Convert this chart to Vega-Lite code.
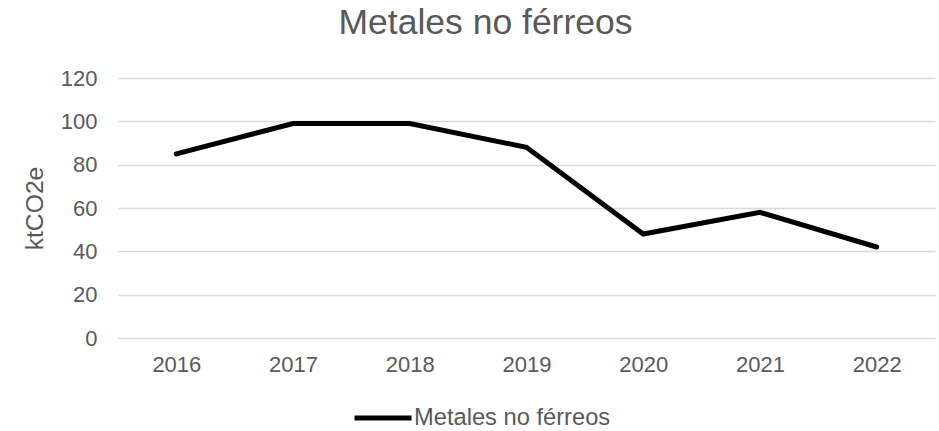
{
  "$schema": "https://vega.github.io/schema/vega-lite/v6.json",
  "width": 817,
  "height": 260,
  "autosize": "none",
  "padding": {"left": 118, "top": 78, "right": 4, "bottom": 93},
  "background": "white",
  "title": {
    "text": "Metales no férreos",
    "fontSize": 35.5,
    "font": "Liberation Sans",
    "fontWeight": "normal",
    "color": "#595959",
    "anchor": "middle",
    "frame": "group",
    "baseline": "alphabetic",
    "dx": -41,
    "offset": -2
  },
  "data": {
    "values": [
      {"anio": "2016", "valor": 85, "serie": "Metales no férreos"},
      {"anio": "2017", "valor": 99, "serie": "Metales no férreos"},
      {"anio": "2018", "valor": 99, "serie": "Metales no férreos"},
      {"anio": "2019", "valor": 88, "serie": "Metales no férreos"},
      {"anio": "2020", "valor": 48, "serie": "Metales no férreos"},
      {"anio": "2021", "valor": 58, "serie": "Metales no férreos"},
      {"anio": "2022", "valor": 42, "serie": "Metales no férreos"}
    ]
  },
  "mark": {"type": "line", "strokeWidth": 5, "strokeCap": "round", "strokeJoin": "miter"},
  "encoding": {
    "x": {
      "field": "anio",
      "type": "ordinal",
      "scale": {"type": "point", "padding": 0.5},
      "axis": {
        "title": null,
        "labelAngle": 0,
        "labelFont": "Liberation Sans",
        "labelFontSize": 22,
        "labelColor": "#595959",
        "labelPadding": 16,
        "ticks": false,
        "domain": false,
        "grid": false
      }
    },
    "y": {
      "field": "valor",
      "type": "quantitative",
      "scale": {"domain": [0, 120]},
      "axis": {
        "title": "ktCO2e",
        "titleFont": "Liberation Sans",
        "titleFontSize": 24.7,
        "titleFontWeight": "normal",
        "titleColor": "#595959",
        "titlePadding": 13,
        "values": [0, 20, 40, 60, 80, 100, 120],
        "labelFont": "Liberation Sans",
        "labelFontSize": 22,
        "labelColor": "#595959",
        "labelPadding": 21,
        "ticks": false,
        "domain": false,
        "grid": true,
        "gridColor": "#d9d9d9",
        "gridWidth": 1.5
      }
    },
    "color": {
      "field": "serie",
      "type": "nominal",
      "scale": {"range": ["#000000"]},
      "legend": {
        "title": null,
        "orient": "none",
        "legendX": 234,
        "legendY": 309,
        "symbolType": "stroke",
        "symbolSize": 3249,
        "symbolStrokeWidth": 5,
        "labelFont": "Liberation Sans",
        "labelFontSize": 23.7,
        "labelColor": "#595959",
        "labelOffset": 0,
        "labelLimit": 400
      }
    }
  },
  "config": {"view": {"stroke": null}}
}
